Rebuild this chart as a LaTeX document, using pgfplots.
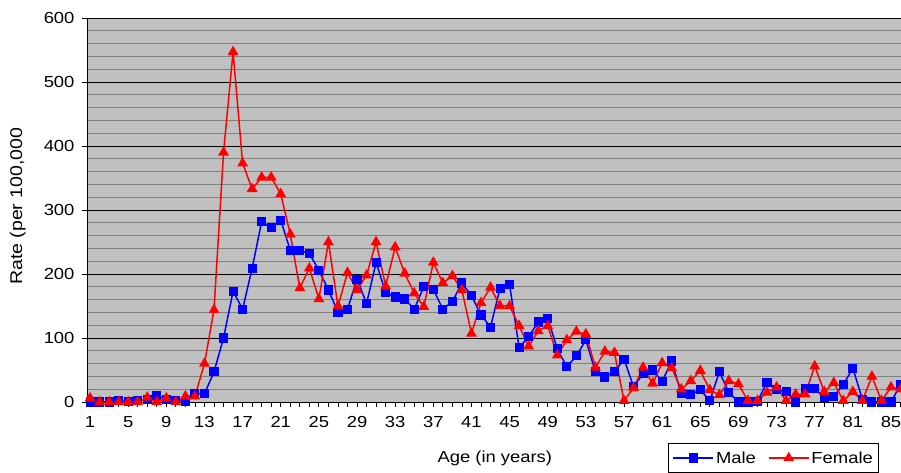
\documentclass[border=0pt]{standalone}
\usepackage{fontspec}
\setmainfont{Liberation Sans}[FakeStretch=1.15]
\usepackage{pgfplots}
\pgfplotsset{compat=1.18}
\definecolor{plotbg}{RGB}{192,192,192}
\definecolor{mgrid}{RGB}{128,128,128}
\pgfplotstableread{
age male female
1 0 6
2 0 0
3 0 0
4 2 0
5 1 0
6 2 0
7 4 7
8 10 0
9 4 6
10 3 0
11 1 9
12 13 9
13 13 60
14 47 144
15 100 390
16 173 547
17 145 373
18 209 333
19 282 351
20 272 351
21 284 325
22 237 262
23 237 178
24 232 209
25 206 161
26 175 250
27 140 150
28 145 202
29 192 175
30 154 198
31 218 250
32 171 181
33 164 242
34 161 201
35 145 170
36 180 149
37 176 218
38 145 186
39 157 197
40 186 175
41 166 107
42 136 155
43 117 179
44 178 150
45 183 150
46 85 119
47 102 87
48 125 111
49 131 119
50 83 73
51 55 97
52 72 110
53 97 106
54 47 54
55 39 79
56 47 77
57 67 2
58 24 22
59 44 54
60 50 29
61 32 61
62 64 53
63 13 20
64 12 33
65 19 49
66 2 19
67 47 11
68 15 33
69 0 28
70 0 2
71 1 2
72 31 15
73 19 23
74 16 2
75 0 12
76 21 12
77 21 56
78 7 16
79 9 30
80 27 2
81 53 16
82 4 2
83 0 40
84 0 2
85 0 23
86 27 20
}\datatable
\begin{document}
\begin{tikzpicture}[font=\fontsize{16}{19}\selectfont]
\begin{axis}[
  scale only axis, width=814pt, height=384pt,
  xmin=0.68, xmax=86.05, ymin=0, ymax=600,
  axis background/.style={fill=plotbg},
  axis x line*=bottom, axis y line*=left,
  axis line style={black, line width=0.8pt},
  xtick={1,5,...,85}, minor xtick={1,...,86},
  ytick={0,100,...,600}, minor ytick={20,40,...,580},
  ymajorgrids, yminorgrids,
  major grid style={black, line width=0.8pt},
  minor grid style={mgrid, line width=0.8pt},
  tick align=outside,
  major tick length=5pt, minor tick length=5pt,
  minor y tick style={draw=none},
  tick style={black, line width=0.8pt},
  /pgf/number format/assume math mode=true,
  tick label style={font=\fontsize{16}{19}\selectfont},
  xticklabel style={yshift=-6pt},
  yticklabel style={xshift=-4pt},
  xlabel={Age (in years)}, ylabel={Rate (per 100,000},
  xlabel style={at={(axis description cs:0.501,-0.146)}, anchor=center, font=\fontsize{16}{19}\selectfont},
  ylabel style={at={(axis description cs:-0.085,0.51)}, anchor=center, font=\fontsize{17}{20}\selectfont},
  legend columns=2,
  legend style={at={(0.714,-0.107)}, anchor=north west, draw=black, fill=white,
    line width=0.8pt, font=\fontsize{16}{19}\selectfont,
    inner xsep=4pt, inner ysep=6pt,
    /tikz/every even column/.append style={column sep=10pt}},
  legend image code/.code={\draw[mark repeat=2, mark phase=2, #1] plot coordinates {(0pt,0pt) (20pt,0pt) (40pt,0pt)};},
  legend image post style={line width=1.5pt},
]
\addplot[blue, line width=1.5pt, mark=square*, mark size=3.8pt, mark options={solid, fill=blue}] table[x=age, y=male] {\datatable};
\addlegendentry{Male}
\addplot[red, line width=1.5pt, mark=triangle*, mark size=4.8pt, mark options={solid, fill=red}] table[x=age, y=female] {\datatable};
\addlegendentry{Female}
\end{axis}
\pgfresetboundingbox
\path (-87pt,-71pt) rectangle (814pt,402pt);
\end{tikzpicture}
\end{document}
